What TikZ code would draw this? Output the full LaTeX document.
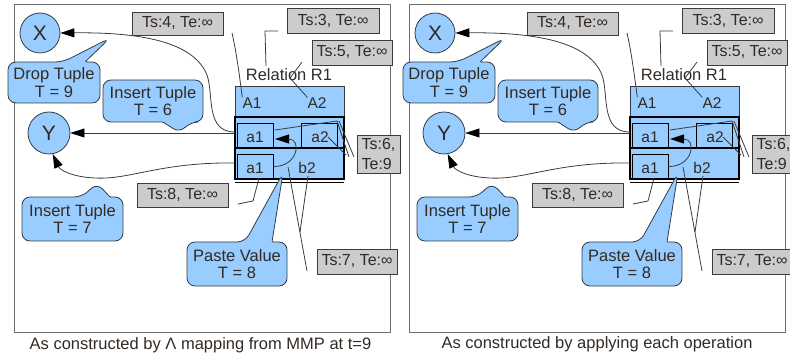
\documentclass[tikz,border=0pt]{standalone}
\usepackage{fontspec}
\setmainfont{Liberation Sans}
\usetikzlibrary{arrows.meta}
\definecolor{callfill}{RGB}{153,204,255}
\definecolor{callline}{RGB}{50,60,70}
\definecolor{boxfill}{RGB}{204,204,204}
\definecolor{boxline}{RGB}{60,60,60}
\definecolor{txtc}{RGB}{50,42,36}
\definecolor{connc}{RGB}{60,60,60}
\definecolor{framec}{RGB}{110,110,110}
\tikzset{
  lbl/.style={inner sep=0pt, text=txtc, font=\fontsize{16.5}{17.5}\selectfont},
  cell/.style={inner sep=0pt, text=txtc, font=\fontsize{15.5}{16}\selectfont},
  circ/.style={circle, draw=callline, fill=callfill, line width=0.8pt, inner sep=0pt, text=txtc, font=\fontsize{21}{22}\selectfont},
  tsbox/.style={draw=boxline, fill=boxfill, line width=0.8pt, inner sep=2pt, text=txtc, font=\fontsize{16}{20}\selectfont},
  hdrcell/.style={draw=callline, fill=callfill, line width=0.8pt, inner sep=0pt},
  rowcell/.style={draw=black, fill=callfill, line width=1.5pt, inner sep=0pt},
  cellbox/.style={draw=black, line width=0.8pt, inner sep=0pt},
  co/.style={draw=callline, fill=callfill, line width=0.8pt, rounded corners=8pt},
  conn/.style={draw=connc, line width=0.8pt},
  arr/.style={draw=connc, line width=0.8pt, -{Triangle[length=14pt,width=9pt,color=black]}},
  framest/.style={draw=framec, line width=1pt}
}
\newcommand\mypanel{%
  \draw[framest] (14,5) rectangle (390,332);
  % table
  \node[hdrcell, minimum width=109pt, minimum height=31pt] (hdr) at (289.5,101.5) {};
  \node[rowcell, minimum width=109pt, minimum height=31pt] (row1) at (289.5,132.5) {};
  \node[rowcell, minimum width=109pt, minimum height=31pt] (row2) at (289.5,163.5) {};
  \draw[line width=0.8pt] (235,182) -- (344,182);
  \node[cellbox, minimum width=36pt, minimum height=24pt] (c11) at (255,135) {};
  \node[cellbox, minimum width=36pt, minimum height=24pt] (c12) at (319,135) {};
  \node[cellbox, minimum width=36pt, minimum height=25pt] (c21) at (255,166.5) {};
  \node[cell] (A1) at (252,103) {A1};
  \node[cell] (A2) at (317,103) {A2};
  \node[cell] (t11) at (255,137.5) {a1};
  \node[cell] (t12) at (320,137.5) {a2};
  \node[cell] (t21) at (255,168) {a1};
  \node[cell] (t22) at (307,168) {b2};
  \node[lbl] (rel) at (289,75) {Relation R1};
  % circles
  \node[circ, minimum size=40pt] (X) at (40,33) {X};
  \node[circ, minimum size=42pt] (Y) at (49,133) {Y};
  % named free ends
  \coordinate (pX) at (235,132);
  \coordinate (pY) at (235,133);
  \coordinate (pY2) at (235,163);
  \coordinate (tipA) at (275,139);
  \coordinate (ts4a) at (232,33);
  \coordinate (ts3a) at (278,31);
  \coordinate (ts3b) at (265,31);
  \coordinate (ts3c) at (266,66);
  \coordinate (ts5a) at (302,62);
  \coordinate (ts5b) at (290,78);
  \coordinate (s6a) at (275,130);
  \coordinate (s6b) at (337,121);
  \coordinate (s6c) at (349,157);
  \coordinate (s6d) at (339,121);
  \coordinate (s6e) at (354,157);
  \coordinate (s6f) at (328,137);
  \coordinate (s6g) at (346,155);
  \coordinate (s8a) at (238,204);
  \coordinate (s8b) at (253,201);
  \coordinate (s8c) at (259,178);
  \coordinate (s7a) at (307,271);
  \coordinate (s7b) at (288,167);
  \coordinate (s7c) at (300,232);
  \coordinate (s7d) at (308,176);
  % arrows
  \draw[arr] (pX) .. controls (205,132) and (214,95) .. (207,75) .. controls (195,45) and (150,32) .. (X.east);
  \draw[arr] (pY) -- (Y.east);
  \draw[arr] (pY2) .. controls (160,162) and (130,180) .. (95,178) .. controls (72,177) and (60,170) .. (Y.-80);
  \draw[arr] (c21.east) .. controls (298,167) and (302,139) .. (tipA);
  % connectors
  \draw[conn] (ts4a) .. controls (236,50) and (239,72) .. (A1.north west);
  \draw[conn] (ts3a) -- (ts3b) -- (ts3c);
  \draw[conn] (ts5a) -- (ts5b) -- (A2.north west);
  \draw[conn] (s6a) -- (s6b) -- (s6c);
  \draw[conn] (s6d) -- (s6e);
  \draw[conn] (s6f) -- (s6g);
  \draw[conn] (s8a) -- (s8b) -- (s8c);
  \draw[conn] (s7a) -- (s7b);
  \draw[conn] (s7c) -- (s7d);
  % grey boxes
  \node[tsbox, minimum width=91pt, minimum height=23pt] (ts4) at (177.5,23.5) {Ts:4, Te:∞};
  \node[tsbox, minimum width=92pt, minimum height=25pt] (ts3) at (333,20.5) {Ts:3, Te:∞};
  \node[tsbox, minimum width=80pt, minimum height=25pt] (ts5) at (352,52.5) {Ts:5, Te:∞};
  \node[tsbox, minimum width=43pt, minimum height=38pt, align=left] (ts6) at (378.5,154) {Ts:6,\\Te:9};
  \node[tsbox, minimum width=91pt, minimum height=24pt] (ts8) at (182.5,195) {Ts:8, Te:∞};
  \node[tsbox, minimum width=80pt, minimum height=25pt] (ts7) at (357,261.5) {Ts:7, Te:∞};
  % callouts
  \draw[co] (8,82) -- (8,62) -- (63,62) -- (110,38) [rounded corners=1pt] -- (85,62) [rounded corners=8pt] -- (100,62) -- (100,103) -- (8,103) -- cycle;
  \node[lbl, align=center] (drop) at (54,82.5) {Drop Tuple\\T = 9};
  \draw[co] (103,101) -- (103,80) -- (203,80) -- (203,122) -- (190,122) -- (180,133) [rounded corners=1pt] -- (163,122) [rounded corners=8pt] -- (103,122) -- cycle;
  \node[lbl, align=center] (ins6) at (153,101) {Insert Tuple\\T = 6};
  \draw[co] (22,219) -- (22,197) -- (82,197) -- (97,183) [rounded corners=1pt] -- (110,197) [rounded corners=8pt] -- (123,197) -- (123,241) -- (22,241) -- cycle;
  \node[lbl, align=center] (ins7) at (72.5,219) {Insert Tuple\\T = 7};
  \draw[co] (187,264) -- (187,242) -- (245,242) -- (283,173) [rounded corners=1pt] -- (272,242) [rounded corners=8pt] -- (287,242) -- (287,286) -- (187,286) -- cycle;
  \node[lbl, align=center] (paste) at (237,264) {Paste Value\\T = 8};
}
\begin{document}
\begin{tikzpicture}[x=1pt,y=-1pt]
\useasboundingbox (0,0) rectangle (790,358);
\begin{scope}[name prefix=L-]
\mypanel
\end{scope}
\begin{scope}[xshift=395pt,name prefix=R-]
\mypanel
\end{scope}
\node[lbl] (capL) at (200.5,345) {As constructed by Λ mapping from MMP at t=9};
\node[lbl] (capR) at (597,344) {As constructed by applying each operation};
\end{tikzpicture}
\end{document}
